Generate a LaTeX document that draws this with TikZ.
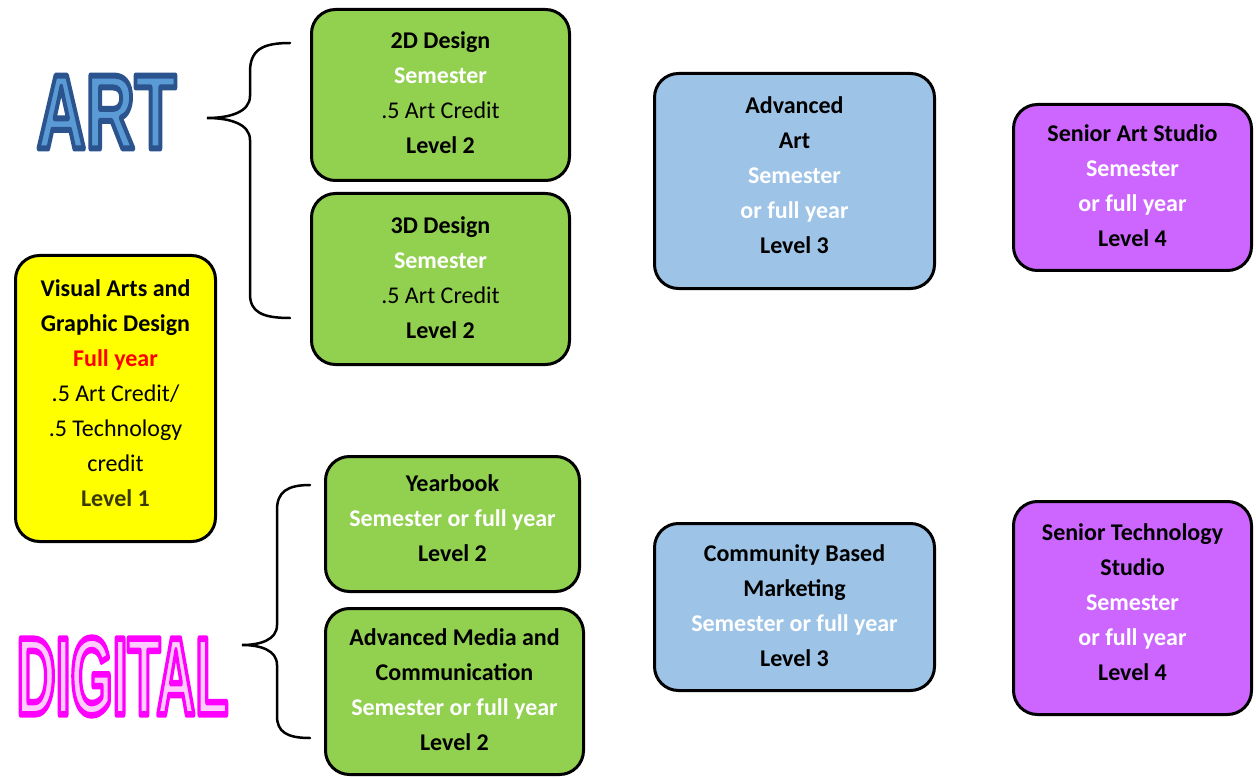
\documentclass[tikz,border=0pt]{standalone}
\usepackage{fontspec}
\usepackage{graphicx}
\setmainfont{Carlito}
\newfontfamily\bigsans{Liberation Sans}
\definecolor{gfill}{HTML}{92D050}
\definecolor{bfill}{HTML}{9DC3E6}
\definecolor{pfill}{HTML}{CC66FF}
\definecolor{yfill}{HTML}{FFFF00}
\definecolor{artfill}{HTML}{5B9BD5}
\definecolor{digfill}{HTML}{FFCCFF}
\definecolor{lvlone}{HTML}{3A3A00}
\newcommand\mys{\rule[-15pt]{0pt}{35pt}}
\newcommand\mysT{\rule[-15pt]{0pt}{43pt}}
\tikzset{
  box/.style={draw=black, line width=3pt, rounded corners=24pt, align=center,
    inner sep=0pt, font=\fontsize{24}{35}\selectfont},
  greenbox/.style={box, fill=gfill},
  bluebox/.style={box, fill=bfill},
  purplebox/.style={box, fill=pfill},
  yellowbox/.style={box, fill=yfill},
  brace/.style={draw=black, line width=2.5pt, line cap=round},
  arttext/.style={inner sep=0pt, font=\bigsans\bfseries\fontsize{106}{106}\selectfont},
  digtext/.style={inner sep=0pt, font=\bigsans\bfseries\fontsize{110}{110}\selectfont}
}
\begin{document}
\begin{tikzpicture}[x=1pt,y=-1pt]
\useasboundingbox (0,0) rectangle (1256,778);
\fill[white] (0,0) rectangle (1256,778);

% ART word (outlined via text render mode)
\node[arttext] (art) at (106.5,112) {\textcolor{artfill}{\special{pdf:literal direct q 2 Tr 6 w 1 j 0.17 0.33 0.56 RG}\scalebox{0.64}[1]{ART}\special{pdf:literal direct Q}}};

% DIGITAL word (outlined via text render mode)
\node[digtext] (dig) at (122.5,676.5) {\textcolor{digfill}{\special{pdf:literal direct q 2 Tr 6.5 w 1 j 1 0 1 RG}\scalebox{0.49}[1]{DIGITAL}\special{pdf:literal direct Q}}};

% boxes
\node[greenbox, minimum width=258pt, minimum height=171pt] (d2) at (440.5,95)
  {\mysT\textbf{2D Design}\\ \mys\textcolor{white}{\textbf{Semester}}\\ \mys.5 Art Credit\\ \mys\textbf{Level 2}};
\node[greenbox, minimum width=258pt, minimum height=171pt] (d3) at (440.5,279)
  {\mysT\textbf{3D Design}\\ \mys\textcolor{white}{\textbf{Semester}}\\ \mys.5 Art Credit\\ \mys\textbf{Level 2}};
\node[yellowbox, minimum width=200pt, minimum height=286pt] (vis) at (115.5,398.5)
  {\mys\textbf{Visual Arts and}\\ \mys\textbf{Graphic Design}\\ \mys\textcolor{red}{\textbf{Full year}}\\ \mys.5 Art Credit/\\ \mys.5 Technology\\ \mys credit\\ \mys\textcolor{lvlone}{\textbf{Level 1}}};
\node[greenbox, minimum width=254pt, minimum height=135pt] (yb) at (452.5,524)
  {\mys\textbf{Yearbook}\\ \mys\textcolor{white}{\textbf{Semester or full year}}\\ \mys\textbf{Level 2}};
\node[greenbox, minimum width=258pt, minimum height=166pt] (amc) at (454.5,691.5)
  {\mysT\textbf{Advanced Media and}\\ \mys\textbf{Communication}\\ \mys\textcolor{white}{\textbf{Semester or full year}}\\ \mys\textbf{Level 2}};
\node[bluebox, minimum width=280pt, minimum height=215pt] (aa) at (794.5,181)
  {\mys\textbf{Advanced}\\ \mys\textbf{Art}\\ \mys\textcolor{white}{\textbf{Semester}}\\ \mys\textcolor{white}{\textbf{or full year}}\\ \mys\textbf{Level 3}};
\node[bluebox, minimum width=280pt, minimum height=167pt] (cbm) at (794.5,607)
  {\mysT\textbf{Community Based}\\ \mys\textbf{Marketing}\\ \mys\textcolor{white}{\textbf{Semester or full year}}\\ \mys\textbf{Level 3}};
\node[purplebox, minimum width=238pt, minimum height=166pt] (sas) at (1132.5,187.5)
  {\mysT\textbf{Senior Art Studio}\\ \mys\textcolor{white}{\textbf{Semester}}\\ \mys\textcolor{white}{\textbf{or full year}}\\ \mys\textbf{Level 4}};
\node[purplebox, minimum width=238pt, minimum height=213pt] (sts) at (1132.5,608)
  {\mys\textbf{Senior Technology}\\ \mys\textbf{Studio}\\ \mys\textcolor{white}{\textbf{Semester}}\\ \mys\textcolor{white}{\textbf{or full year}}\\ \mys\textbf{Level 4}};

% braces
\coordinate (artTop) at (290,43);
\coordinate (artTip) at (207,118);
\coordinate (artBot) at (290,318);
\draw[brace] (artTop) .. controls (262,43) and (250,50) .. (250,72) -- (250,96)
  .. controls (250,112) and (230,118) .. (artTip)
  .. controls (230,118) and (250,124) .. (250,140) -- (250,294)
  .. controls (250,312) and (262,318) .. (artBot);

\coordinate (digTop) at (310,485);
\coordinate (digTip) at (242,645);
\coordinate (digBot) at (310,738);
\draw[brace] (digTop) .. controls (287,485) and (277,492) .. (277,510) -- (277,625)
  .. controls (277,640) and (260,645) .. (digTip)
  .. controls (260,645) and (277,650) .. (277,665) -- (277,716)
  .. controls (277,732) and (287,738) .. (digBot);
\end{tikzpicture}
\end{document}
